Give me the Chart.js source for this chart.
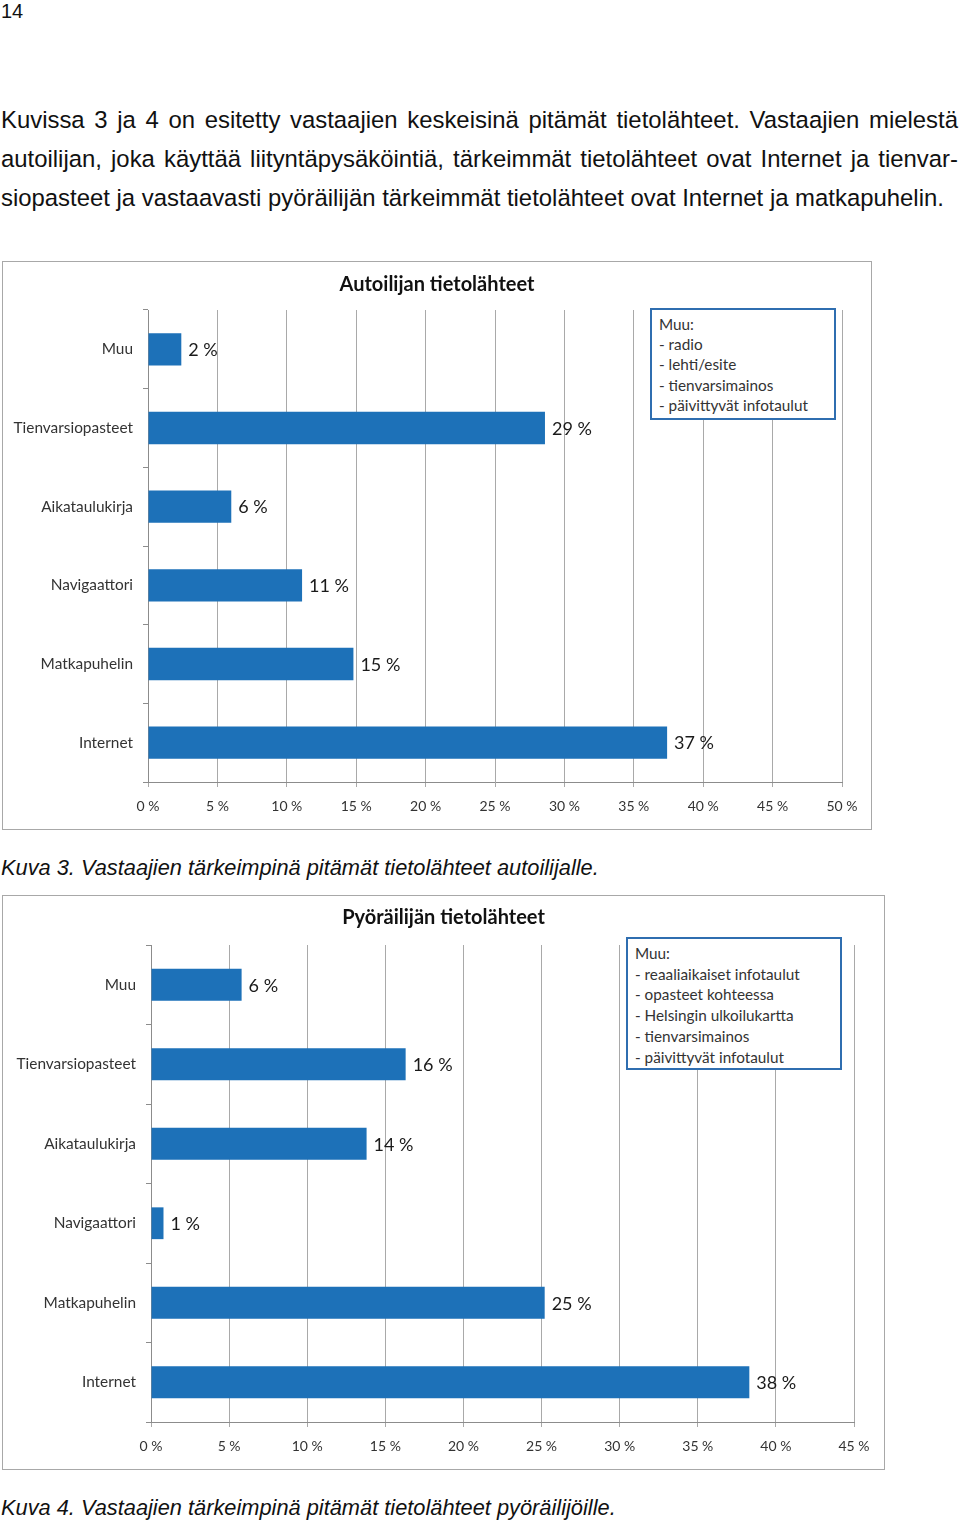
<!DOCTYPE html>
<html>
<head>
<meta charset="utf-8">
<script src="https://cdn.jsdelivr.net/npm/chart.js@4.4.1/dist/chart.umd.min.js"></script>
<style>
  body { margin: 0; width: 960px; height: 1524px; background: #fff; position: relative; font-family: "Liberation Sans", Arial, sans-serif; color: #111; }
  .pg { position: absolute; left: 1px; top: 0px; font-size: 20px; }
  .para { position: absolute; left: 1px; width: 957px; font-size: 23.9px; line-height: 39px; }
  .para div { white-space: nowrap; }
  .para .j { text-align: justify; text-align-last: justify; white-space: normal; }
  .cap { position: absolute; left: 1px; font-size: 21.8px; font-style: italic; }
  .box { position: absolute; box-sizing: border-box; border: 1px solid #a8a8a8; background: #fff; }
  .box canvas { position: absolute; left: 0; top: 0; }
  .ttl { position: absolute; left: 0; right: 0; text-align: center; font-family: Lato, "Open Sans", sans-serif;
         font-weight: bold; font-size: 20px; color: #111; }
  .note { position: absolute; box-sizing: border-box; border: 2px solid #2f6eb0; background: #fff;
          font-family: Lato, "Open Sans", sans-serif; font-size: 15.3px; color: #333; padding: 4px 0 0 7px; white-space: nowrap; }
</style>
</head>
<body>
<div class="pg">14</div>
<div class="para" style="top:100px">
  <div class="j">Kuvissa 3 ja 4 on esitetty vastaajien keskeisinä pitämät tietolähteet. Vastaajien mielestä</div>
  <div class="j">autoilijan, joka käyttää liityntäpysäköintiä, tärkeimmät tietolähteet ovat Internet ja tienvar-</div>
  <div>siopasteet ja vastaavasti pyöräilijän tärkeimmät tietolähteet ovat Internet ja matkapuhelin.</div>
</div>

<div class="box" style="left:2px; top:261px; width:870px; height:569px;">
  <canvas id="c1" width="868" height="567"></canvas>
  <div class="ttl" id="t1" style="top:9px;"></div>
  <div class="note" id="n1" style="left:647px; top:46px; width:186px; height:112px; line-height:20.2px;"></div>
</div>
<div class="cap" style="top:855px">Kuva 3. Vastaajien tärkeimpinä pitämät tietolähteet autoilijalle.</div>

<div class="box" style="left:2px; top:895px; width:883px; height:575px;">
  <canvas id="c2" width="881" height="573"></canvas>
  <div class="ttl" id="t2" style="top:8px;"></div>
  <div class="note" id="n2" style="left:623px; top:41px; width:216px; height:133px; line-height:20.7px;"></div>
</div>
<div class="cap" style="top:1495px">Kuva 4. Vastaajien tärkeimpinä pitämät tietolähteet pyöräilijöille.</div>

<script>
// chart 1: autoilija
const title1 = 'Autoilijan tietolähteet';
const categories1 = ['Muu', 'Tienvarsiopasteet', 'Aikataulukirja', 'Navigaattori', 'Matkapuhelin', 'Internet'];
const values1 = [2.4, 28.6, 6.0, 11.1, 14.8, 37.4];
const xMax1 = 50;
const notes1 = ['Muu:', '- radio', '- lehti/esite', '- tienvarsimainos', '- päivittyvät infotaulut'];

// chart 2: pyöräilijä
const title2 = 'Pyöräilijän tietolähteet';
const categories2 = ['Muu', 'Tienvarsiopasteet', 'Aikataulukirja', 'Navigaattori', 'Matkapuhelin', 'Internet'];
const values2 = [5.8, 16.3, 13.8, 0.8, 25.2, 38.3];
const xMax2 = 45;
const notes2 = ['Muu:', '- reaaliaikaiset infotaulut', '- opasteet kohteessa', '- Helsingin ulkoilukartta', '- tienvarsimainos', '- päivittyvät infotaulut'];

const xStep = 5;
const barColor = '#1d71b8';
const gridColor = '#a9a9a9';
const chartFont = 'Lato, "Open Sans", sans-serif';

// percent labels at bar ends
const barLabels = {
  id: 'barLabels',
  afterDatasetsDraw(chart) {
    const ctx = chart.ctx;
    const meta = chart.getDatasetMeta(0);
    ctx.save();
    ctx.font = '18px ' + chartFont;
    ctx.fillStyle = '#1a1a1a';
    ctx.textAlign = 'left';
    ctx.textBaseline = 'middle';
    meta.data.forEach((bar, i) => {
      const v = chart.data.datasets[0].data[i];
      ctx.fillText(Math.round(v) + ' %', bar.x + 7, bar.y + 1);
    });
    ctx.restore();
  }
};

function makeChart(id, categories, values, xMax, g) {
  return new Chart(document.getElementById(id), {
    type: 'bar',
    data: {
      labels: categories,
      datasets: [{
        data: values,
        backgroundColor: barColor,
        borderWidth: 0,
        barPercentage: g.bar,
        categoryPercentage: 1
      }]
    },
    options: {
      indexAxis: 'y',
      responsive: false,
      animation: false,
      layout: { padding: { left: 0, right: g.right, top: g.top, bottom: 0 } },
      plugins: {
        legend: { display: false },
        tooltip: { enabled: false }
      },
      scales: {
        x: {
          min: 0,
          max: xMax,
          ticks: {
            stepSize: xStep,
            color: '#333',
            padding: 11,
            font: { family: chartFont, size: 14 },
            callback: v => v + ' %'
          },
          grid: { color: gridColor, tickLength: 5 },
          border: { color: '#8c8c8c' },
          afterFit: s => { s.height = g.xHeight; }
        },
        y: {
          ticks: {
            color: '#333',
            padding: 10,
            font: { family: chartFont, size: 15.4 }
          },
          grid: { drawOnChartArea: false, color: '#8c8c8c', tickLength: 5 },
          border: { color: '#8c8c8c' },
          afterFit: s => { s.width = g.yWidth; }
        }
      }
    },
    plugins: [barLabels]
  });
}

makeChart('c1', categories1, values1, xMax1,
  { bar: 0.41, right: 29, top: 48, xHeight: 47, yWidth: 145 });
makeChart('c2', categories2, values2, xMax2,
  { bar: 0.40, right: 30, top: 49, xHeight: 47, yWidth: 148 });

document.getElementById('t1').textContent = title1;
document.getElementById('t2').textContent = title2;
document.getElementById('n1').innerHTML = notes1.map(t => '<div>' + t + '</div>').join('');
document.getElementById('n2').innerHTML = notes2.map(t => '<div>' + t + '</div>').join('');
</script>
</body>
</html>
